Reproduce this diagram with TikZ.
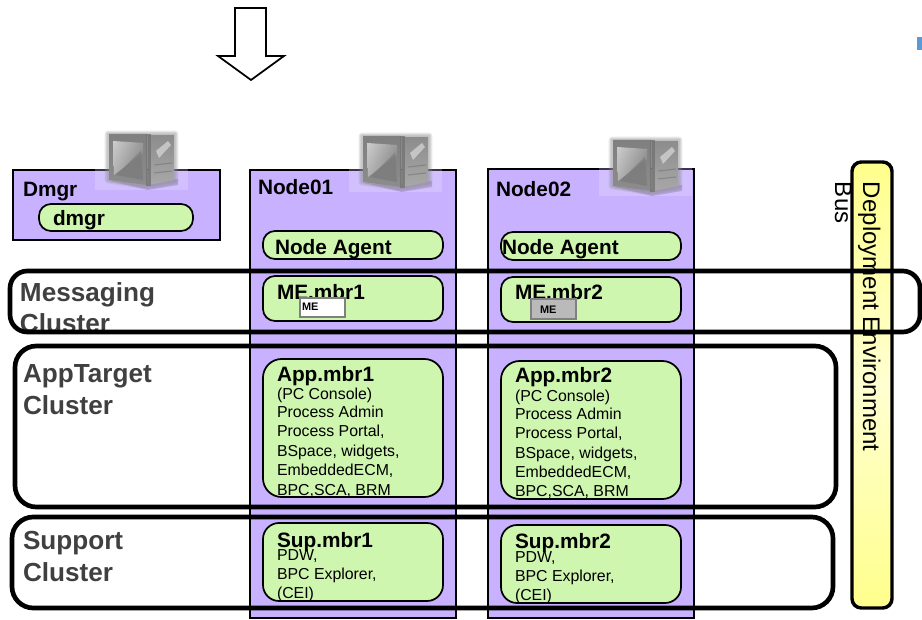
\documentclass[tikz,border=0pt]{standalone}
\usepackage{fontspec}
\setmainfont{Liberation Sans}
\usetikzlibrary{shapes.geometric,shadings}
\definecolor{nodepurple}{HTML}{C8B1FE}
\definecolor{pillgreen}{HTML}{CFF6AF}
\definecolor{clustertext}{HTML}{404040}
\definecolor{smallblue}{HTML}{5B9BD5}
\tikzset{
  hostbox/.style={fill=nodepurple,draw=black,line width=1.3pt},
  pillbox/.style={fill=pillgreen,draw=black,line width=1.3pt,rounded corners=9pt},
  clusterbox/.style={draw=black,line width=3.5pt,rounded corners=13pt},
  lbl/.style={anchor=base west,inner sep=0pt,outer sep=0pt},
  titlefont/.style={lbl,font=\bfseries\fontsize{15.6}{18}\selectfont,text=black},
  bodyfont/.style={lbl,font=\fontsize{11.9}{14}\selectfont,text=black},
  clusterfont/.style={lbl,font=\bfseries\fontsize{19.6}{23}\selectfont,text=clustertext},
  mefont/.style={lbl,font=\bfseries\fontsize{8.2}{9}\selectfont,text=black},
  sidefont/.style={lbl,font=\fontsize{18}{20}\selectfont,text=black,rotate=-90},
}
% #1,#2 top-left of the icon; #3 local y of the thin line
\newcommand{\srvicon}[3]{%
  \begin{scope}[shift={(#1,#2)}]
    \fill[white!18!nodepurple] (-13,#3) rectangle (80,59);
    \fill[black!45!nodepurple,opacity=.3] (2,50) -- (40,59) -- (70,54) -- (70,48) -- (40,52) -- cycle;
    \draw[black!70!nodepurple,line width=1pt] (-13,#3) -- (4,#3) (64,#3) -- (80,#3);
    \foreach \wd in {5,3.2,1.6}{
      \draw[black!45,line width=\wd pt,opacity=.2,line join=round]
        (0,3) -- (67,3) -- (67,50) -- (39,55) -- (0,49) -- cycle;}
    \shade[top color=black!50,bottom color=black!45] (1,3) -- (39,3) -- (39,54) -- (1,49) -- cycle;
    \shade[upper left=black!20,lower left=black!30,upper right=black!40,lower right=black!52]
      (5,10) -- (35,12) -- (35,22) -- (6,44) -- cycle;
    \fill[black!52,opacity=.7] (8,44) -- (33,20) -- (35,49) -- cycle;
    \shade[top color=black!45,bottom color=black!34] (40,4) -- (66,4) -- (66,49) -- (40,54) -- cycle;
    \fill[black!55,opacity=.8] (38,3) rectangle (43,55);
    \fill[black!18,opacity=.8] (48,20) -- (60,10) -- (63,14) -- (51,27) -- cycle;
    \draw[black!55,line width=.8pt,opacity=.6] (46,34) -- (64,32) (46,42) -- (64,40);
  \end{scope}}
\begin{document}
\begin{tikzpicture}[x=0.75pt,y=-0.75pt]
\useasboundingbox (0,0) rectangle (922,620);
% big arrow
\draw[line width=1.3pt,fill=white,line join=miter]
  (235,8) -- (266,8) -- (266,56) -- (284,56) -- (251,80) -- (218,56) -- (235,56) -- cycle;
\fill[smallblue] (917,37) rectangle (922,50);
% host boxes
\draw[hostbox] (13,170) rectangle (220,240);
\draw[hostbox] (250,170) rectangle (456,618);
\draw[hostbox] (488,169) rectangle (694,618);
% server icons
\srvicon{108}{131}{39}
\srvicon{362}{133}{37}
\srvicon{612}{137}{32}
% host labels
\node[titlefont] (tdmgr) at (23,197) {Dmgr};
\node[titlefont] (tnode1) at (258,195) {Node01};
\node[titlefont] (tnode2) at (496,197) {Node02};
% pills
\draw[pillbox] (39,204) rectangle (193,231);
\draw[pillbox] (263,231) rectangle (443,259);
\draw[pillbox] (501,232) rectangle (681,260);
\draw[pillbox] (263,276) rectangle (443,321);
\draw[pillbox] (501,277) rectangle (681,322);
\draw[pillbox,rounded corners=14pt] (263,359) rectangle (443,497);
\draw[pillbox,rounded corners=14pt] (501,361) rectangle (681,499);
\draw[pillbox,rounded corners=12pt] (263,523) rectangle (443,601);
\draw[pillbox,rounded corners=12pt] (501,525) rectangle (681,603);
% pill text
\node[titlefont] (tdm) at (53,226) {dmgr};
\node[titlefont] (na1) at (275,255) {Node Agent};
\node[titlefont] (na2) at (502,255) {Node Agent};
\node[titlefont] (me1) at (277,300) {ME.mbr1};
\node[titlefont] (me2) at (515,300) {ME.mbr2};
\draw[draw=black!50,line width=1.5pt,fill=white] (300,298) rectangle (345,317);
\draw[draw=black!50,line width=1.5pt,fill=black!27] (531,299) rectangle (576,319);
\node[mefont] (mb1) at (302,311) {ME};
\node[mefont] (mb2) at (540,314) {ME};
\node[titlefont] (ap1) at (277,382) {App.mbr1};
\node[bodyfont] (a11) at (277,400) {(PC Console)};
\node[bodyfont] (a12) at (277,418) {Process Admin};
\node[bodyfont] (a13) at (277,437) {Process Portal,};
\node[bodyfont] (a14) at (277,456) {BSpace, widgets,};
\node[bodyfont] (a15) at (277,476) {EmbeddedECM,};
\node[bodyfont] (a16) at (277,495) {BPC,SCA, BRM};
\node[titlefont] (ap2) at (515,383) {App.mbr2};
\node[bodyfont] (a21) at (515,402) {(PC Console)};
\node[bodyfont] (a22) at (515,420) {Process Admin};
\node[bodyfont] (a23) at (515,439) {Process Portal,};
\node[bodyfont] (a24) at (515,459) {BSpace, widgets,};
\node[bodyfont] (a25) at (515,478) {EmbeddedECM,};
\node[bodyfont] (a26) at (515,497) {BPC,SCA, BRM};
\node[titlefont] (su1) at (277,547) {Sup.mbr1};
\node[bodyfont] (s11) at (277,561) {PDW,};
\node[bodyfont] (s12) at (277,579) {BPC Explorer,};
\node[bodyfont] (s13) at (277,598) {(CEI)};
\node[titlefont] (su2) at (515,548) {Sup.mbr2};
\node[bodyfont] (s21) at (515,562) {PDW,};
\node[bodyfont] (s22) at (515,581) {BPC Explorer,};
\node[bodyfont] (s23) at (515,600) {(CEI)};
% deployment bar
\draw[line width=2.6pt,draw=black,rounded corners=7pt,top color=yellow!45,bottom color=yellow!45,middle color=yellow!18]
  (852,162) rectangle (892,608);
\node[sidefont] (dep) at (863,182) {Deployment Environment};
\node[sidefont] (bus) at (835,182) {Bus};
% cluster labels
\node[clusterfont] (c1a) at (20,302) {Messaging};
\node[clusterfont] (c1b) at (20,333) {Cluster};
\node[clusterfont] (c2a) at (23,383) {AppTarget};
\node[clusterfont] (c2b) at (23,415) {Cluster};
\node[clusterfont] (c3a) at (23,549) {Support};
\node[clusterfont] (c3b) at (23,581) {Cluster};
% cluster outlines
\draw[clusterbox] (10,271) rectangle (920,332);
\draw[clusterbox,rounded corners=16pt] (15,346) rectangle (836,507);
\draw[clusterbox,rounded corners=16pt] (12,517) rectangle (833,608);
\end{tikzpicture}
\end{document}
